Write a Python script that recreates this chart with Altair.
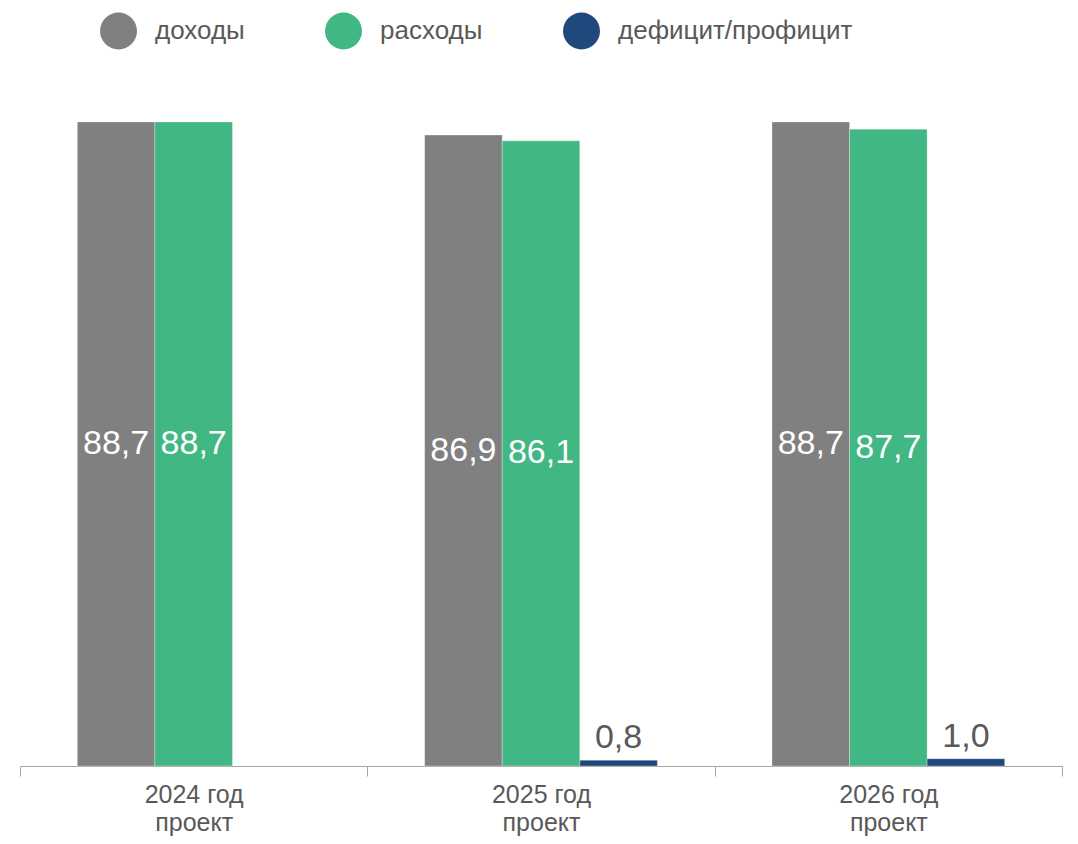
import altair as alt
import pandas as pd

years = ["2024 год", "2025 год", "2026 год"]
second_line = "проект"
series = ["доходы", "расходы", "дефицит/профицит"]
income = [88.7, 86.9, 88.7]
expenses = [88.7, 86.1, 87.7]
balance = [None, 0.8, 1.0]
colors = ["#808080", "#41b883", "#1f497d"]

rows = []
for i, yr in enumerate(years):
    for s, vals in zip(series, [income, expenses, balance]):
        v = vals[i]
        if v is None:
            continue
        rows.append({
            "year": yr,
            "series": s,
            "value": v,
            "half": v / 2,
            "label": f"{v:.1f}".replace(".", ","),
        })
df = pd.DataFrame(rows)

FONT = "Liberation Sans"
TXT = "#595959"

x_enc = alt.X(
    "year:N",
    sort=years,
    scale=alt.Scale(paddingInner=0, paddingOuter=0),
    axis=alt.Axis(
        title=None,
        labelAngle=0,
        labelFontSize=25,
        labelFont=FONT,
        labelColor=TXT,
        labelLineHeight=28,
        labelPadding=6,
        labelExpr=f"datum.label ? [datum.label, '{second_line}'] : ''",
        domainColor="#a6a6a6",
        domainWidth=1.2,
        tickColor="#a6a6a6",
        tickSize=10,
        tickBand="extent",
        grid=False,
    ),
)
xoff = alt.XOffset("series:N", sort=series,
                   scale=alt.Scale(domain=series, paddingInner=0, paddingOuter=0.739))
y_scale = alt.Scale(domain=[0, 90], nice=False, zero=True)

bars = alt.Chart(df).mark_bar(stroke="#ffffff", strokeWidth=0.6, strokeOpacity=0.5).encode(
    x=x_enc,
    xOffset=xoff,
    y=alt.Y("value:Q", scale=y_scale, axis=None),
    color=alt.Color(
        "series:N",
        scale=alt.Scale(domain=series, range=colors),
        legend=alt.Legend(
            title=None,
            orient="none",
            legendX=80,
            legendY=-100,
            direction="horizontal",
            symbolType="circle",
            symbolSize=1369,
            symbolStrokeWidth=0,
            symbolOpacity=1,
            labelFontSize=26,
            labelFont=FONT,
            labelColor=TXT,
            labelOffset=18,
            columnPadding=80,
            padding=0,
            labelLimit=400,
        ),
    ),
)

inner = alt.Chart(df).transform_filter(
    alt.datum.series != "дефицит/профицит"
).mark_text(fontSize=34, font=FONT, color="#ffffff", baseline="middle", align="center").encode(
    x=alt.X("year:N", sort=years),
    xOffset=xoff,
    y=alt.Y("half:Q", scale=y_scale, axis=None),
    text="label:N",
)

outer = alt.Chart(df).transform_filter(
    alt.datum.series == "дефицит/профицит"
).mark_text(fontSize=34, font=FONT, color=TXT, baseline="alphabetic", align="center", dy=-12).encode(
    x=alt.X("year:N", sort=years),
    xOffset=xoff,
    y=alt.Y("value:Q", scale=y_scale, axis=None),
    text="label:N",
)

chart = alt.layer(bars, inner, outer).properties(
    width=1042,
    height=653.5,
    autosize=alt.AutoSizeParams(type="none"),
    padding={"left": 12, "top": 104.5, "right": 8, "bottom": 70},
).configure_view(stroke=None)

chart.save("out.html", embed_options={"renderer": "svg", "actions": False})
